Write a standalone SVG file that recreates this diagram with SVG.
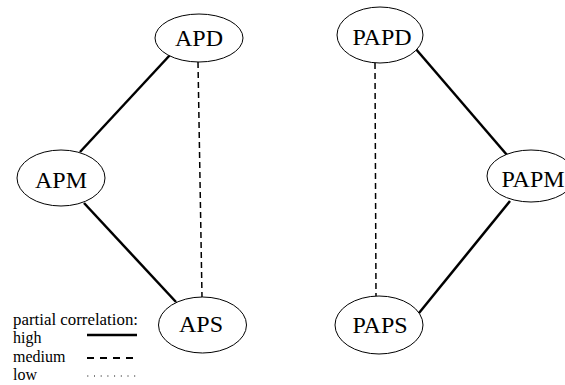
<svg xmlns="http://www.w3.org/2000/svg" width="565" height="385" viewBox="0 0 565 385">
<style>
  .node ellipse { fill: #ffffff; stroke: #000000; stroke-width: 1; }
  .node text { font-family: "Liberation Serif", "Times New Roman", serif; font-size: 24px; fill: #000000; text-anchor: middle; }
  .high { stroke: #000000; stroke-width: 2.5; fill: none; }
  .medium { stroke: #000000; stroke-width: 1.5; stroke-dasharray: 6 4; fill: none; }
  .legmedium { stroke: #000000; stroke-width: 2; stroke-dasharray: 7 6; fill: none; }
  .low { stroke: #000000; stroke-width: 1; stroke-dasharray: 1 5.7; fill: none; }
  .legend text { font-family: "Liberation Serif", "Times New Roman", serif; font-size: 16px; fill: #000000; }
</style>
<rect width="565" height="385" fill="#ffffff"/>
<g id="connectors">
  <line class="high" x1="170" y1="55" x2="80" y2="152"/>
  <line class="high" x1="84" y1="203" x2="176" y2="302"/>
  <line class="medium" x1="198" y1="62" x2="202" y2="297"/>
  <line class="medium" x1="375" y1="63" x2="376" y2="296"/>
  <line class="high" x1="415" y1="48" x2="507" y2="155"/>
  <line class="high" x1="419" y1="313" x2="510" y2="201"/>
</g>
<g id="APD" class="node">
  <ellipse cx="199" cy="38" rx="44" ry="24"/>
  <text x="199" y="46">APD</text>
</g>
<g id="APM" class="node">
  <ellipse cx="61" cy="178" rx="44" ry="28"/>
  <text x="61" y="188">APM</text>
</g>
<g id="APS" class="node">
  <ellipse cx="202.5" cy="325" rx="44" ry="28"/>
  <text x="201" y="332">APS</text>
</g>
<g id="PAPD" class="node">
  <ellipse cx="380" cy="35" rx="43" ry="28"/>
  <text x="382" y="45">PAPD</text>
</g>
<g id="PAPM" class="node">
  <ellipse cx="531" cy="176" rx="44" ry="26"/>
  <text x="533" y="187">PAPM</text>
</g>
<g id="PAPS" class="node">
  <ellipse cx="379" cy="325" rx="44" ry="29"/>
  <text x="380" y="333">PAPS</text>
</g>
<g id="legend" class="legend">
  <text x="13" y="325" textLength="125" lengthAdjust="spacingAndGlyphs">partial correlation:</text>
  <text x="13" y="343">high</text>
  <text x="13" y="362">medium</text>
  <text x="13" y="380">low</text>
  <line class="high" x1="87" y1="335" x2="137" y2="335"/>
  <line class="legmedium" x1="87" y1="358" x2="137" y2="358"/>
  <line class="low" x1="87.3" y1="376" x2="137" y2="376"/>
</g>
</svg>
